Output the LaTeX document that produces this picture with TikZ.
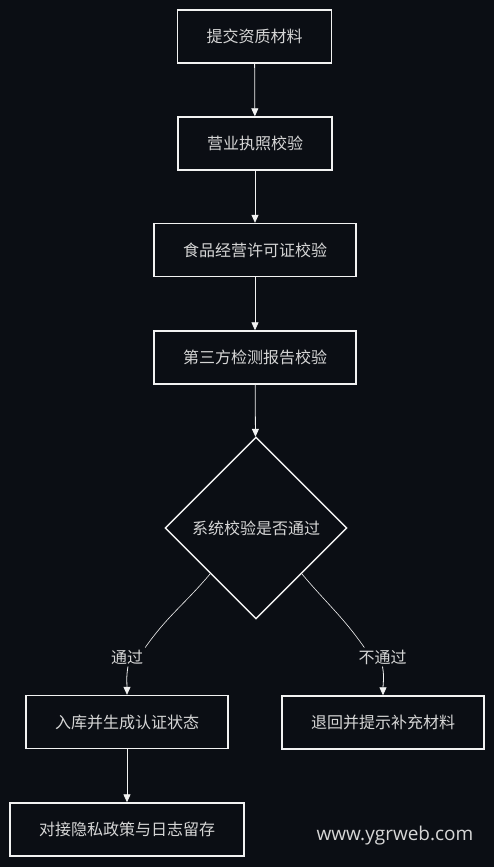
\documentclass[tikz,border=0pt]{standalone}
\usepackage{fontspec}
\setmainfont{Noto Sans CJK SC}
\newfontfamily\markfont{Open Sans}
\usetikzlibrary{calc,positioning,arrows.meta,shapes.geometric}
\definecolor{bgdark}{HTML}{0B0E14}
\definecolor{linew}{HTML}{F2F2F2}
\definecolor{textg}{HTML}{D6D6D6}

\begin{document}
\begin{tikzpicture}[x=1pt,y=1pt,
	box/.style={draw=linew, line width=1.4pt, fill=bgdark, text=textg, inner xsep=29pt, minimum height=53pt, font=\fontsize{16}{19}\selectfont},
	check/.style={draw=linew, line width=1.4pt, diamond, minimum width=182pt, minimum height=182pt, inner sep=0pt, text=textg, font=\fontsize{16}{19}\selectfont},
	flow/.style={draw=linew, line width=0.8pt, -{Triangle[length=8pt,width=7pt]}},
	link/.style={draw=linew, line width=0.6pt},
	tag/.style={text=textg, inner sep=2pt, font=\fontsize{16}{19}\selectfont}]

	% background and page size
	\fill[bgdark] (0,0) rectangle (494,-867);
	\useasboundingbox (0,0) rectangle (494,-867);

	% main column
	\node[box] (submit) at (254.5,-36.5) {提交资质材料};
	\node[box] (license) at (255,-143.5) {营业执照校验};
	\node[box] (permit) at (255,-250) {食品经营许可证校验};
	\node[box] (report) at (255,-357.5) {第三方检测报告校验};
	\node[check] (dec) at (256,-528) {系统校验是否通过};

	% two branches
	\node[tag] (pass) at (127,-657) {通过};
	\node[tag] (fail) at (382.5,-657) {不通过};
	\node[box] (store) at (127,-722) {入库并生成认证状态};
	\node[box] (back) at (383,-722.5) {退回并提示补充材料};
	\node[box] (log) at (127,-829.5) {对接隐私政策与日志留存};

	\node[text=textg, font=\markfont\fontsize{19}{23}\selectfont] (mark) at (395,-836) {www.ygrweb.com};

	\draw[flow] (submit) -- (license);
	\draw[flow] (license) -- (permit);
	\draw[flow] (permit) -- (report);
	\draw[flow] (report) -- (dec);

	\draw[link] (dec.south west) to[out=-130,in=55] (pass.north east);
	\draw[flow] ([xshift=1pt]pass.south) to[out=-100,in=90] (store.north);
	\draw[link] (dec.south east) to[out=-50,in=125] ([xshift=8pt]fail.north west);
	\draw[flow] (fail.south) to[out=-80,in=90] (back.north);
	\draw[flow] (store) -- (log);
\end{tikzpicture}
\end{document}
